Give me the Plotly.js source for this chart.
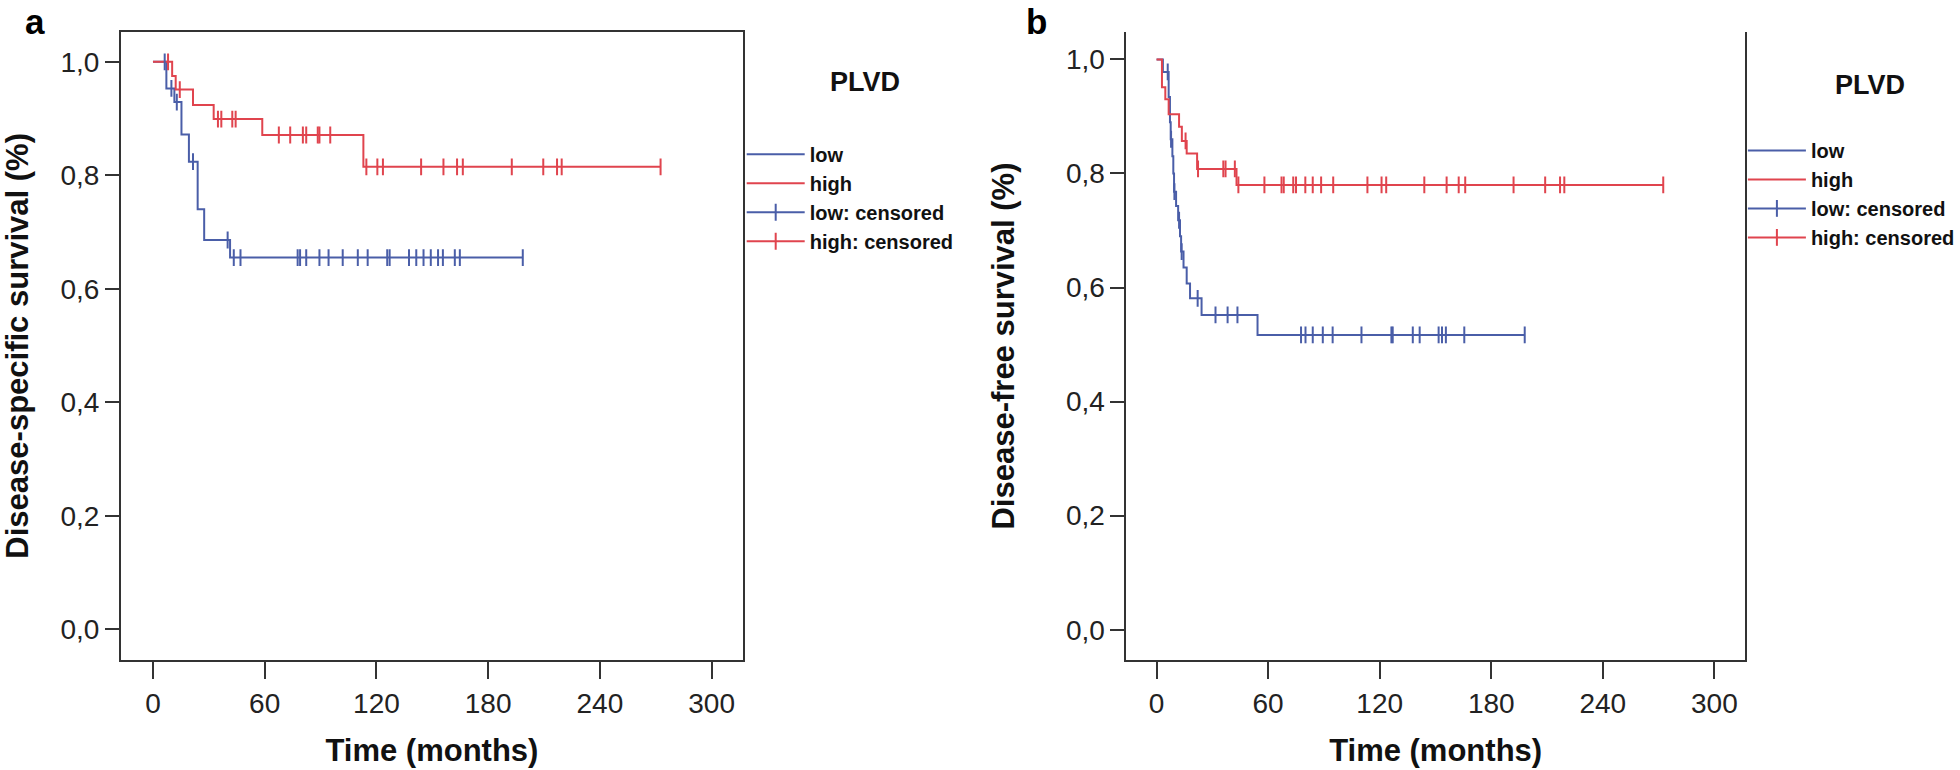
<!DOCTYPE html>
<html>
<head>
<meta charset="utf-8">
<script src="https://cdn.plot.ly/plotly-3.0.1.min.js"></script>
<style>
  html, body { margin: 0; padding: 0; background: #fff; }
  #chart { width: 1960px; height: 770px; }
</style>
</head>
<body>
<div id="chart"></div>
<script>
// Panel a: disease-specific survival, step times (months) and survival after each step
const dssLowTime = [0, 7.2, 11.5, 15.3, 19.3, 24.0, 27.5, 41.4, 198.6];
const dssLowSurv = [1.0, 0.953, 0.929, 0.872, 0.824, 0.740, 0.686, 0.655, 0.655];
const dssLowCens = [6.3, 9.9, 12.8, 21.5, 40.1, 43.4, 47.0, 77.7, 79.0, 82.3, 89.4, 94.3, 101.9,
                    110.0, 115.3, 125.8, 127.1, 137.5, 141.4, 145.3, 149.2, 153.1, 155.7, 162.1, 164.8, 198.6];

const dssHighTime = [0, 10.3, 12.2, 21.5, 32.6, 58.7, 113.0, 272.6];
const dssHighSurv = [1.0, 0.975, 0.951, 0.924, 0.899, 0.871, 0.815, 0.815];
const dssHighCens = [8.1, 14.4, 34.9, 36.7, 42.6, 44.4, 67.6, 73.7, 80.5, 82.3, 88.5, 89.4, 95.2,
                     114.6, 120.5, 123.5, 144.0, 156.0, 163.3, 166.4, 192.7, 209.6, 217.0, 219.5, 272.6];

// Panel b: disease-free survival
const dfsLowTime = [0, 3.4, 6.5, 7.2, 7.6, 8.5, 9.0, 9.4, 10.5, 11.6, 12.6, 13.2, 14.5, 16.2, 18.0, 24.2, 54.3, 198.0];
const dfsLowSurv = [1.0, 0.978, 0.934, 0.890, 0.860, 0.830, 0.800, 0.768, 0.743, 0.718, 0.690, 0.663,
                    0.635, 0.607, 0.581, 0.552, 0.517, 0.517];
const dfsLowCens = [6.0, 7.8, 9.6, 12.1, 13.5, 22.1, 31.7, 38.2, 43.5, 77.7, 80.1, 84.0, 89.4, 94.7,
                    110.2, 126.3, 127.0, 137.8, 141.5, 151.7, 153.5, 155.6, 165.5, 198.0];

const dfsHighTime = [0, 2.9, 4.7, 6.5, 12.1, 13.6, 16.2, 21.8, 43.0, 272.5];
const dfsHighSurv = [1.0, 0.951, 0.930, 0.904, 0.882, 0.857, 0.835, 0.808, 0.780, 0.780];
const dfsHighCens = [15.6, 22.3, 35.9, 37.1, 42.1, 44.0, 58.0, 67.2, 68.4, 73.5, 75.0, 80.0, 84.0, 88.5,
                     95.0, 113.4, 121.0, 123.5, 144.0, 156.0, 162.5, 166.0, 192.0, 209.0, 217.0, 219.3, 272.5];

const groupNames = ["low", "high", "low: censored", "high: censored"];
const blue = "#4a5ea8";
const red = "#e0444e";
const font = "Liberation Sans, Arial, sans-serif";

// survival value of the step function at time t
function stepAt(times, surv, t) {
    let s = surv[0];
    for (let i = 0; i < times.length; i++) {
        if (times[i] <= t) s = surv[i];
    }
    return s;
}

function curve(times, surv, color, name, xa, ya, leg) {
    return {
        type: "scatter", mode: "lines", name: name,
        x: times, y: surv,
        line: {color: color, width: 2, shape: "hv"},
        xaxis: xa, yaxis: ya, legend: leg,
        hoverinfo: "skip"
    };
}

// censor marks: single points split by nulls, so the legend shows a line with a tick (+)
function censored(times, surv, cens, color, name, xa, ya, leg) {
    const x = [], y = [];
    cens.forEach(t => {
        x.push(t, null);
        y.push(stepAt(times, surv, t), null);
    });
    return {
        type: "scatter", mode: "lines+markers", name: name,
        x: x, y: y, connectgaps: false,
        line: {color: color, width: 2},
        marker: {symbol: "line-ns-open", size: 12, line: {color: color, width: 2}},
        xaxis: xa, yaxis: ya, legend: leg,
        hoverinfo: "skip"
    };
}

const traces = [
    curve(dssLowTime, dssLowSurv, blue, groupNames[0], "x", "y", "legend"),
    curve(dssHighTime, dssHighSurv, red, groupNames[1], "x", "y", "legend"),
    censored(dssLowTime, dssLowSurv, dssLowCens, blue, groupNames[2], "x", "y", "legend"),
    censored(dssHighTime, dssHighSurv, dssHighCens, red, groupNames[3], "x", "y", "legend"),
    curve(dfsLowTime, dfsLowSurv, blue, groupNames[0], "x2", "y2", "legend2"),
    curve(dfsHighTime, dfsHighSurv, red, groupNames[1], "x2", "y2", "legend2"),
    censored(dfsLowTime, dfsLowSurv, dfsLowCens, blue, groupNames[2], "x2", "y2", "legend2"),
    censored(dfsHighTime, dfsHighSurv, dfsHighCens, red, groupNames[3], "x2", "y2", "legend2")
];

const tickFont = {family: font, size: 28, color: "#222"};
const titleFont = {family: font, size: 31, color: "#111", weight: "bold"};

function xAxis(anchor, domain, range, mirror) {
    return {
        anchor: anchor, domain: domain, range: range,
        tick0: 0, dtick: 60,
        ticks: "outside", ticklen: 17, tickwidth: 2, tickcolor: "#333",
        tickfont: tickFont,
        showline: true, linecolor: "#333", linewidth: 2, mirror: mirror,
        showgrid: false, zeroline: false, automargin: false,
        title: {text: "Time (months)", font: titleFont, standoff: 22}
    };
}

function yAxis(anchor, domain, range, title, standoff) {
    return {
        anchor: anchor, domain: domain, range: range,
        tick0: 0, dtick: 0.2, tickformat: ".1f",
        ticks: "outside", ticklen: 14, tickwidth: 2, tickcolor: "#333",
        tickfont: tickFont,
        showline: true, linecolor: "#333", linewidth: 2, mirror: true,
        showgrid: false, zeroline: false, automargin: false,
        title: {text: title, font: titleFont, standoff: standoff}
    };
}

function legendBox(x, y) {
    return {
        x: x, y: y, xanchor: "left", yanchor: "top",
        bgcolor: "rgba(0,0,0,0)", borderwidth: 0,
        font: {family: font, size: 20, color: "#111", weight: "bold"},
        itemwidth: 58, tracegroupgap: 0
    };
}

const layout = {
    width: 1960, height: 770,
    margin: {l: 0, r: 0, t: 0, b: 0},
    paper_bgcolor: "#fff", plot_bgcolor: "#fff",
    separators: ",.",
    showlegend: true,
    xaxis: xAxis("y", [0.0618, 0.3796], [-17.2, 316.8], true),
    yaxis: yAxis("x", [0.1429, 0.9588], [-0.054, 1.053], "Disease-specific survival (%)", 28),
    xaxis2: xAxis("y2", [0.5756, 0.8916], [-16.2, 316.4], false),
    yaxis2: yAxis("x2", [0.1429, 0.9584], [-0.053, 1.048], "Disease-free survival (%)", 42),
    legend: legendBox(0.379, 0.825),
    legend2: legendBox(0.8906, 0.830),
    annotations: [
        {text: "a", xref: "paper", yref: "paper", x: 35 / 1960, y: 1, showarrow: false,
         xanchor: "center", yanchor: "top", font: {family: font, size: 35, color: "#000", weight: "bold"}},
        {text: "b", xref: "paper", yref: "paper", x: 1038 / 1960, y: 1, showarrow: false,
         xanchor: "center", yanchor: "top", font: {family: font, size: 35, color: "#000", weight: "bold"}},
        {text: "PLVD", xref: "paper", yref: "paper", x: 866 / 1960, y: 1 - 82 / 770, showarrow: false,
         xanchor: "center", yanchor: "middle", font: {family: font, size: 27, color: "#111", weight: "bold"}},
        {text: "PLVD", xref: "paper", yref: "paper", x: 1873 / 1960, y: 1 - 85 / 770, showarrow: false,
         xanchor: "center", yanchor: "middle", font: {family: font, size: 27, color: "#111", weight: "bold"}}
    ]
};

Plotly.newPlot("chart", traces, layout, {staticPlot: true, displayModeBar: false});
</script>
</body>
</html>
